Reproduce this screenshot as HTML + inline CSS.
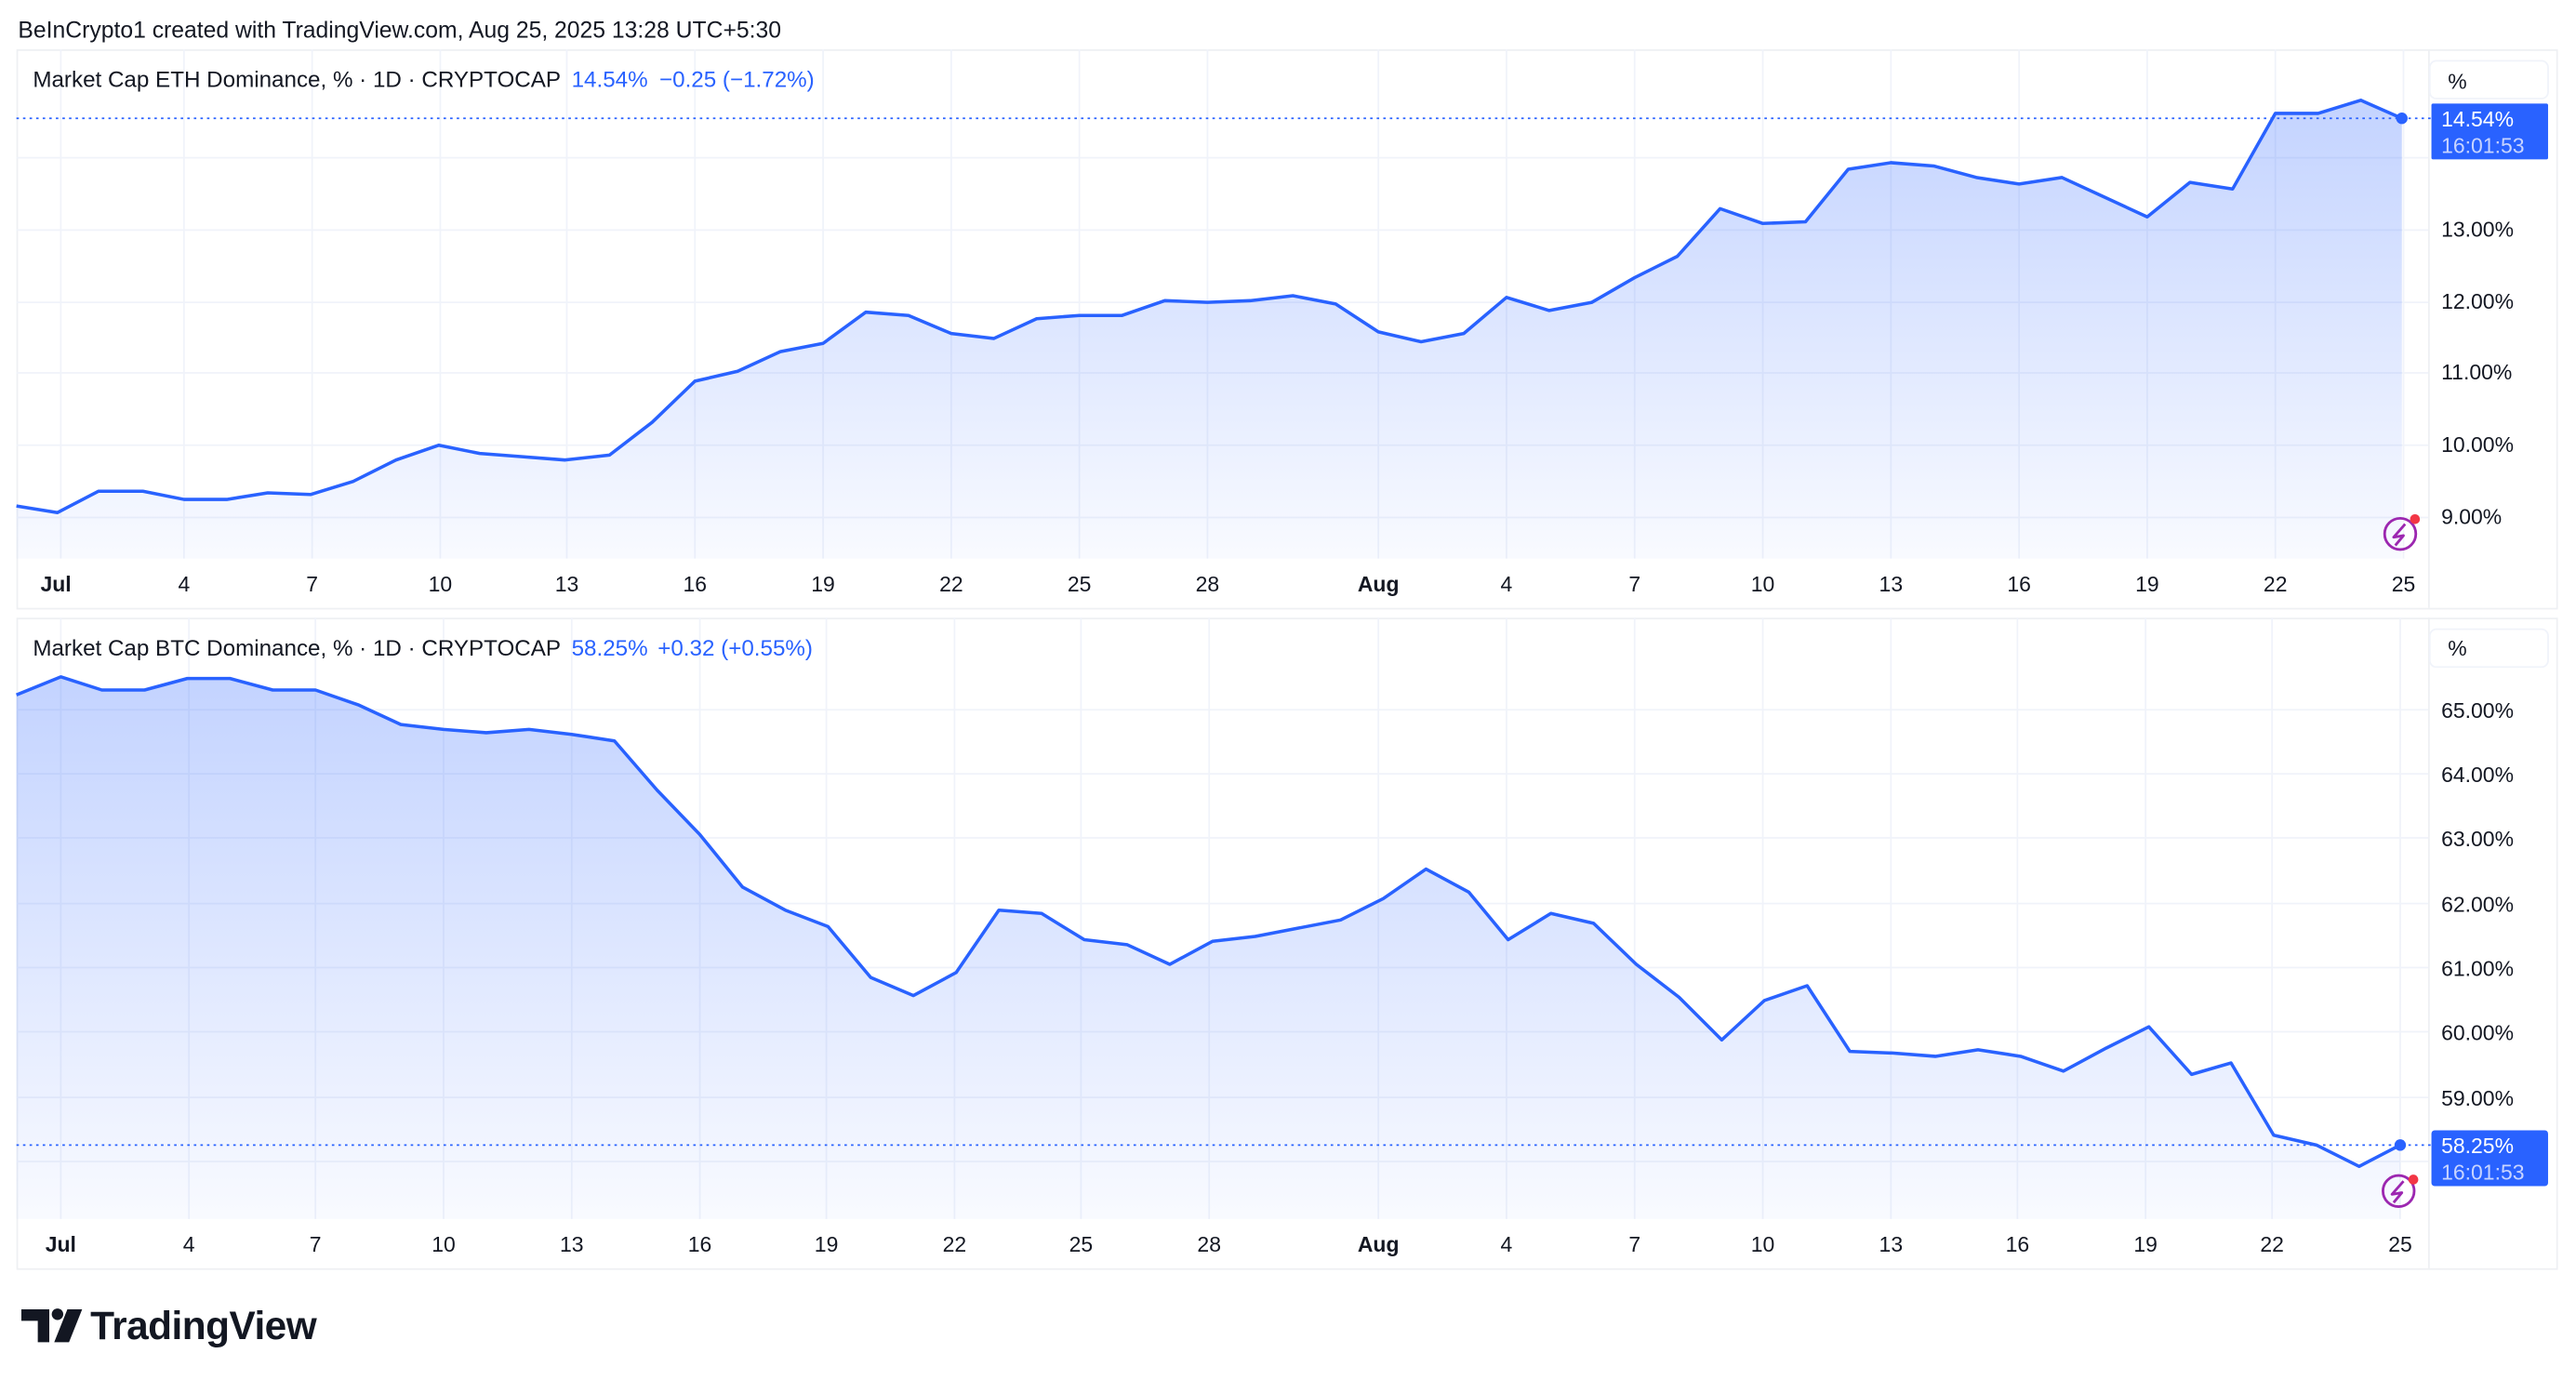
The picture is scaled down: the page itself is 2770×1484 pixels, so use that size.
<!DOCTYPE html>
<html><head><meta charset="utf-8"><style>
html,body{margin:0;padding:0;background:#fff;}
svg{display:block}
text{font-family:"Liberation Sans",sans-serif;}
</style></head><body>
<svg width="2770" height="1484" viewBox="0 0 1568 840" xmlns="http://www.w3.org/2000/svg">
<defs>
<linearGradient id="g1" x1="0" y1="0" x2="0" y2="1"><stop offset="0" stop-color="#2962ff" stop-opacity="0.28"/><stop offset="1" stop-color="#2962ff" stop-opacity="0.03"/></linearGradient>
<linearGradient id="g2" x1="0" y1="0" x2="0" y2="1"><stop offset="0" stop-color="#2962ff" stop-opacity="0.28"/><stop offset="1" stop-color="#2962ff" stop-opacity="0.03"/></linearGradient>
</defs>
<rect width="1568" height="840" fill="#fff"/>
<text x="11" y="23" font-size="14" fill="#131722">BeInCrypto1 created with TradingView.com, Aug 25, 2025 13:28 UTC+5:30</text>

<rect x="10.5" y="30.5" width="1546" height="340" fill="none" stroke="#eef0f3"/>
<rect x="10.5" y="376.5" width="1546" height="396" fill="none" stroke="#eef0f3"/>
<line x1="1478.5" y1="30" x2="1478.5" y2="370" stroke="#eef0f3"/>
<line x1="1478.5" y1="376" x2="1478.5" y2="772" stroke="#eef0f3"/>

<g stroke="#f0f3fa" stroke-width="1">
<line x1="10" y1="315" x2="1478" y2="315"/><line x1="10" y1="271" x2="1478" y2="271"/><line x1="10" y1="227" x2="1478" y2="227"/><line x1="10" y1="184" x2="1478" y2="184"/><line x1="10" y1="140" x2="1478" y2="140"/><line x1="10" y1="96" x2="1478" y2="96"/>
<line x1="37" y1="30" x2="37" y2="340"/><line x1="112" y1="30" x2="112" y2="340"/><line x1="190" y1="30" x2="190" y2="340"/><line x1="268" y1="30" x2="268" y2="340"/><line x1="345" y1="30" x2="345" y2="340"/><line x1="423" y1="30" x2="423" y2="340"/><line x1="501" y1="30" x2="501" y2="340"/><line x1="579" y1="30" x2="579" y2="340"/><line x1="657" y1="30" x2="657" y2="340"/><line x1="735" y1="30" x2="735" y2="340"/><line x1="839" y1="30" x2="839" y2="340"/><line x1="917" y1="30" x2="917" y2="340"/><line x1="995" y1="30" x2="995" y2="340"/><line x1="1073" y1="30" x2="1073" y2="340"/><line x1="1151" y1="30" x2="1151" y2="340"/><line x1="1229" y1="30" x2="1229" y2="340"/><line x1="1307" y1="30" x2="1307" y2="340"/><line x1="1385" y1="30" x2="1385" y2="340"/><line x1="1463" y1="30" x2="1463" y2="340"/>
<line x1="10" y1="432" x2="1478" y2="432"/><line x1="10" y1="471" x2="1478" y2="471"/><line x1="10" y1="510" x2="1478" y2="510"/><line x1="10" y1="550" x2="1478" y2="550"/><line x1="10" y1="589" x2="1478" y2="589"/><line x1="10" y1="628" x2="1478" y2="628"/><line x1="10" y1="668" x2="1478" y2="668"/><line x1="10" y1="707" x2="1478" y2="707"/>
<line x1="37" y1="376" x2="37" y2="742"/><line x1="115" y1="376" x2="115" y2="742"/><line x1="192" y1="376" x2="192" y2="742"/><line x1="270" y1="376" x2="270" y2="742"/><line x1="348" y1="376" x2="348" y2="742"/><line x1="426" y1="376" x2="426" y2="742"/><line x1="503" y1="376" x2="503" y2="742"/><line x1="581" y1="376" x2="581" y2="742"/><line x1="658" y1="376" x2="658" y2="742"/><line x1="736" y1="376" x2="736" y2="742"/><line x1="839" y1="376" x2="839" y2="742"/><line x1="917" y1="376" x2="917" y2="742"/><line x1="995" y1="376" x2="995" y2="742"/><line x1="1073" y1="376" x2="1073" y2="742"/><line x1="1151" y1="376" x2="1151" y2="742"/><line x1="1228" y1="376" x2="1228" y2="742"/><line x1="1306" y1="376" x2="1306" y2="742"/><line x1="1383" y1="376" x2="1383" y2="742"/><line x1="1461" y1="376" x2="1461" y2="742"/>
</g>

<polygon fill="url(#g1)" points="10,308 35,312 60,299 87,299 112,304 138,304 163,300 189,301 215,293 241,280 267,271 292,276 318,278 344,280 371,277 397,257 423,232 449,226 475,214 501,209 527,190 553,192 579,203 605,206 631,194 657,192 683,192 709,183 735,184 761,183 787,180 813,185 839,202 865,208 891,203 917,181 943,189 969,184 995,169 1021,156 1047,127 1073,136 1099,135 1125,103 1151,99 1177,101 1203,108 1229,112 1255,108 1281,120 1307,132 1333,111 1359,115 1385,69 1411,69 1437,61 1462,72 1462,340 10,340"/>
<polyline fill="none" stroke="#2962ff" stroke-width="2" stroke-linejoin="round" points="10,308 35,312 60,299 87,299 112,304 138,304 163,300 189,301 215,293 241,280 267,271 292,276 318,278 344,280 371,277 397,257 423,232 449,226 475,214 501,209 527,190 553,192 579,203 605,206 631,194 657,192 683,192 709,183 735,184 761,183 787,180 813,185 839,202 865,208 891,203 917,181 943,189 969,184 995,169 1021,156 1047,127 1073,136 1099,135 1125,103 1151,99 1177,101 1203,108 1229,112 1255,108 1281,120 1307,132 1333,111 1359,115 1385,69 1411,69 1437,61 1462,72"/>
<line x1="10" y1="72" x2="1480" y2="72" stroke="#2962ff" stroke-width="1" stroke-dasharray="1.5,2.5"/>
<circle cx="1462" cy="72" r="3.5" fill="#2962ff"/>

<polygon fill="url(#g2)" points="10,423 37,412 62,420 88,420 114,413 140,413 166,420 192,420 218,429 244,441 270,444 296,446 322,444 348,447 374,451 400,481 426,508 452,540 478,554 504,564 530,595 556,606 582,592 608,554 634,556 660,572 686,575 712,587 738,573 764,570 790,565 816,560 842,547 868,529 894,543 918,572 944,556 970,562 996,587 1022,607 1048,633 1074,609 1100,600 1126,640 1152,641 1178,643 1204,639 1230,643 1256,652 1282,638 1308,625 1334,654 1358,647 1384,691 1410,697 1436,710 1461,697 1461,742 10,742"/>
<polyline fill="none" stroke="#2962ff" stroke-width="2" stroke-linejoin="round" points="10,423 37,412 62,420 88,420 114,413 140,413 166,420 192,420 218,429 244,441 270,444 296,446 322,444 348,447 374,451 400,481 426,508 452,540 478,554 504,564 530,595 556,606 582,592 608,554 634,556 660,572 686,575 712,587 738,573 764,570 790,565 816,560 842,547 868,529 894,543 918,572 944,556 970,562 996,587 1022,607 1048,633 1074,609 1100,600 1126,640 1152,641 1178,643 1204,639 1230,643 1256,652 1282,638 1308,625 1334,654 1358,647 1384,691 1410,697 1436,710 1461,697"/>
<line x1="10" y1="697" x2="1480" y2="697" stroke="#2962ff" stroke-width="1" stroke-dasharray="1.5,2.5"/>
<circle cx="1461" cy="697" r="3.5" fill="#2962ff"/>

<text x="20" y="53" font-size="13.7" fill="#131722">Market Cap ETH Dominance, % · 1D · CRYPTOCAP <tspan fill="#2962ff" dx="3">14.54%</tspan><tspan fill="#2962ff" dx="7">−0.25 (−1.72%)</tspan></text>
<text x="20" y="399" font-size="13.7" fill="#131722">Market Cap BTC Dominance, % · 1D · CRYPTOCAP <tspan fill="#2962ff" dx="3">58.25%</tspan><tspan fill="#2962ff" dx="6">+0.32 (+0.55%)</tspan></text>

<g font-size="13" fill="#131722">
<rect x="1479" y="37" width="72" height="23" rx="4" fill="#fff" stroke="#f0f3fa"/>
<text x="1490" y="54">%</text>
<text x="1486" y="144">13.00%</text><text x="1486" y="188">12.00%</text><text x="1486" y="231">11.00%</text><text x="1486" y="275">10.00%</text><text x="1486" y="319">9.00%</text>
<rect x="1479" y="383" width="72" height="23" rx="4" fill="#fff" stroke="#f0f3fa"/>
<text x="1490" y="399">%</text>
<text x="1486" y="437">65.00%</text><text x="1486" y="476">64.00%</text><text x="1486" y="515">63.00%</text><text x="1486" y="555">62.00%</text><text x="1486" y="594">61.00%</text><text x="1486" y="633">60.00%</text><text x="1486" y="673">59.00%</text>
</g>
<rect x="1480" y="63" width="71" height="34" rx="1" fill="#2962ff"/>
<text x="1486" y="77" font-size="13" fill="#fff">14.54%</text>
<text x="1486" y="93" font-size="13" fill="#c8d4ff">16:01:53</text>
<rect x="1480" y="688" width="71" height="34" rx="2" fill="#2962ff"/>
<text x="1486" y="702" font-size="13" fill="#fff">58.25%</text>
<text x="1486" y="718" font-size="13" fill="#c8d4ff">16:01:53</text>

<g fill="none" stroke="#9c27b0" stroke-width="1.6">
<circle cx="1461" cy="325" r="9.5"/><path d="M1464 319 L1457 327 L1463 326 L1458 332" stroke-linejoin="round"/>
<circle cx="1460" cy="725" r="9.5"/><path d="M1463 719 L1456 727 L1462 726 L1457 732" stroke-linejoin="round"/>
</g>
<circle cx="1470" cy="316" r="3" fill="#f23645"/>
<circle cx="1469" cy="718" r="3" fill="#f23645"/>

<g font-size="13" fill="#131722" text-anchor="middle">
<text x="34" y="360" font-weight="bold">Jul</text><text x="112" y="360">4</text><text x="190" y="360">7</text><text x="268" y="360">10</text><text x="345" y="360">13</text><text x="423" y="360">16</text><text x="501" y="360">19</text><text x="579" y="360">22</text><text x="657" y="360">25</text><text x="735" y="360">28</text><text x="839" y="360" font-weight="bold">Aug</text><text x="917" y="360">4</text><text x="995" y="360">7</text><text x="1073" y="360">10</text><text x="1151" y="360">13</text><text x="1229" y="360">16</text><text x="1307" y="360">19</text><text x="1385" y="360">22</text><text x="1463" y="360">25</text>
<text x="37" y="762" font-weight="bold">Jul</text><text x="115" y="762">4</text><text x="192" y="762">7</text><text x="270" y="762">10</text><text x="348" y="762">13</text><text x="426" y="762">16</text><text x="503" y="762">19</text><text x="581" y="762">22</text><text x="658" y="762">25</text><text x="736" y="762">28</text><text x="839" y="762" font-weight="bold">Aug</text><text x="917" y="762">4</text><text x="995" y="762">7</text><text x="1073" y="762">10</text><text x="1151" y="762">13</text><text x="1228" y="762">16</text><text x="1306" y="762">19</text><text x="1383" y="762">22</text><text x="1461" y="762">25</text>
</g>

<g fill="#131722">
<path d="M13 797 H30 V817 H23 V804 H13 Z"/>
<circle cx="35" cy="800" r="3.5"/>
<path d="M41 797 H50 L42 817 H33 Z"/>
</g>
<text x="55" y="815" font-size="24" font-weight="bold" fill="#131722" letter-spacing="-0.3">TradingView</text>
</svg>
</body></html>
